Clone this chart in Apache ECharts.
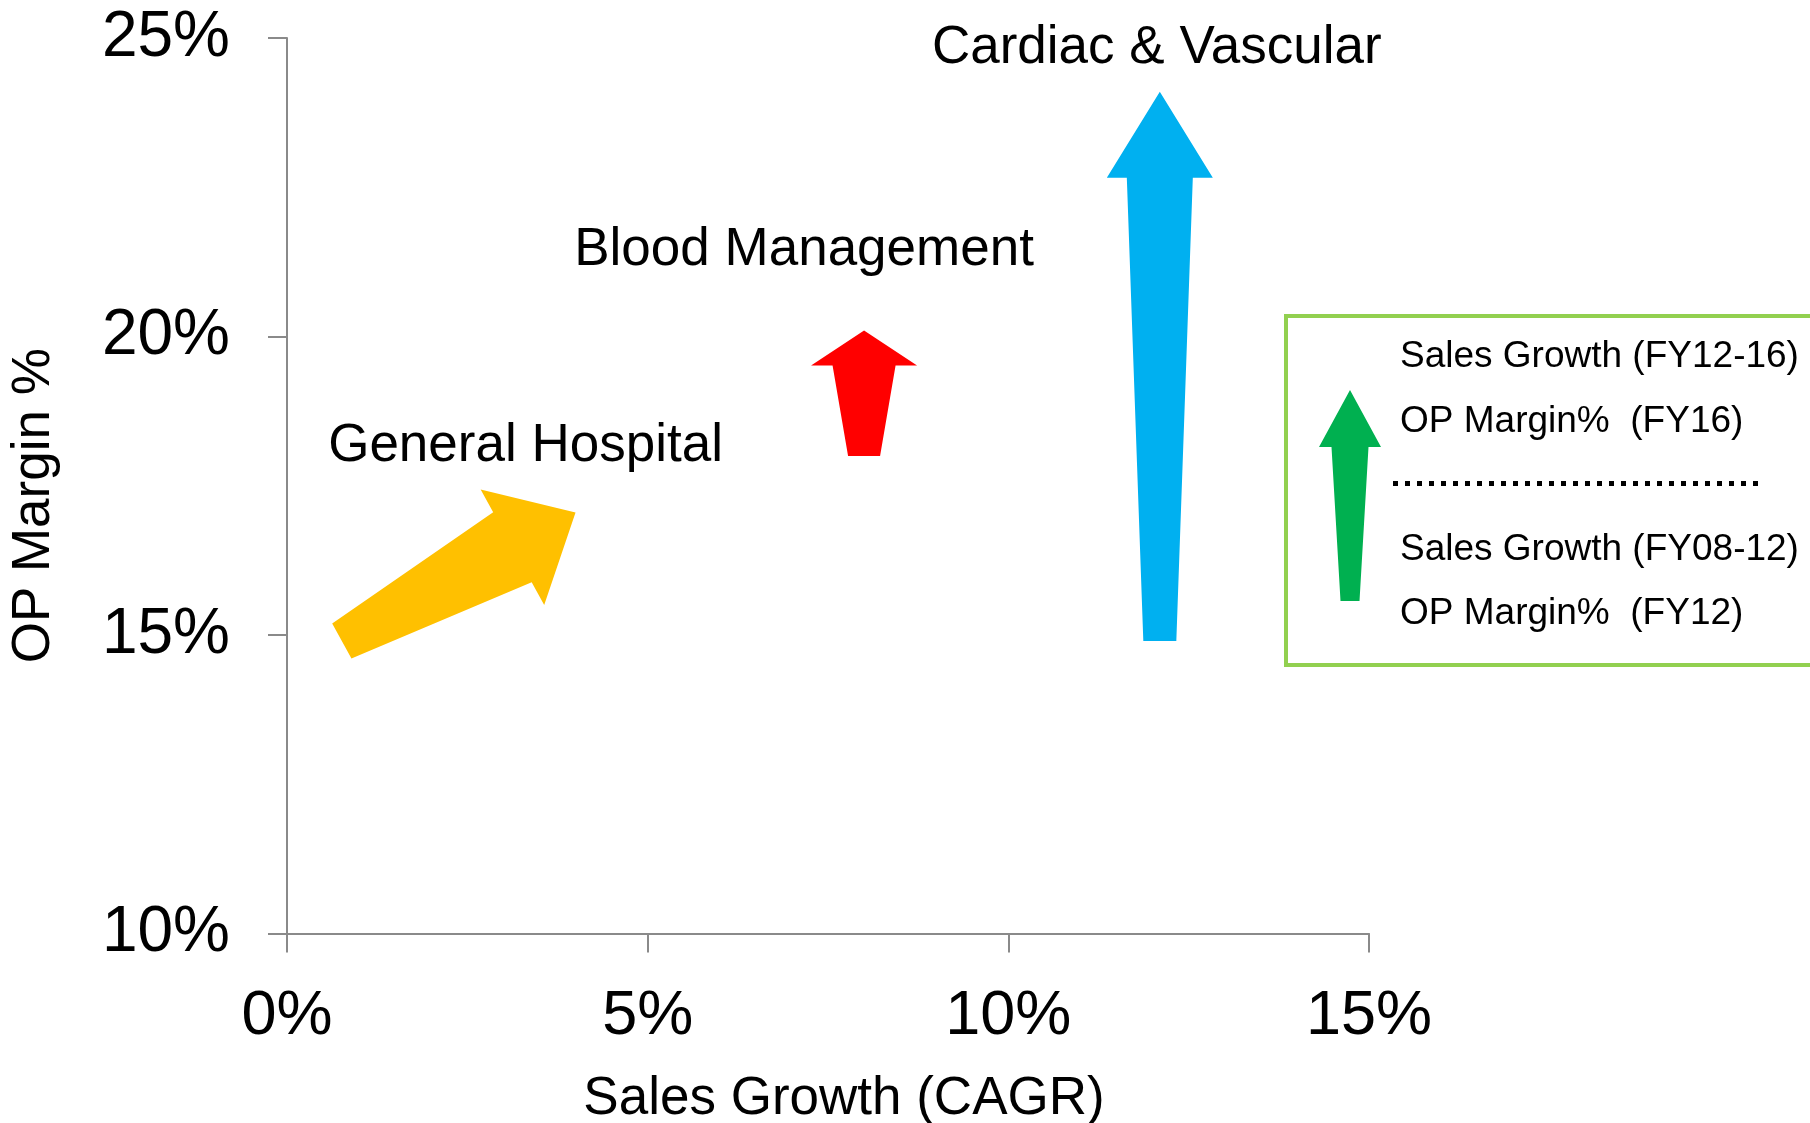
<!DOCTYPE html>
<html lang="en">

<head>
  <meta charset="UTF-8">
  <title>Sales Growth vs OP Margin</title>
  <script src="https://cdn.jsdelivr.net/npm/echarts@6/dist/echarts.min.js"></script>
  <style>
    html,
    body {
      margin: 0;
      padding: 0;
      background: #fff;
    }

    #chart {
      width: 1810px;
      height: 1123px;
    }
  </style>
</head>

<body>
  <div id="chart"></div>
  <script>
    // business segments, one arrow each: FY08-12 -> FY12-16
    const segments = ['General Hospital', 'Blood Management', 'Cardiac & Vascular'];
    const growthStart = [0.76, 8.0, 12.1];  // sales growth FY08-12 (%)
    const growthEnd = [4.0, 8.0, 12.1];     // sales growth FY12-16 (%)
    const marginStart = [14.9, 18.0, 14.9]; // OP margin FY12 (%)
    const marginEnd = [17.05, 20.1, 24.1];  // OP margin FY16 (%)

    const xTicks = [0, 5, 10, 15];
    const yTicks = [10, 15, 20, 25];

    const legendLines = ['Sales Growth (FY12-16)', 'OP Margin%  (FY16)', 'Sales Growth (FY08-12)', 'OP Margin%  (FY12)'];

    const FONT = '"Liberation Sans", Arial, Helvetica, sans-serif';

    // look of each arrow (pixels), not data
    const arrowStyles = [
      { color: '#FFC000', tail: 40, neck: 80, head: 132, headLen: 72, labelDx: -50, labelDy: -66, labelSize: 53 },
      { color: '#FF0000', tail: 32, neck: 63, head: 106, headLen: 35, labelDx: -60, labelDy: -80, labelSize: 53 },
      { color: '#00B0F0', tail: 33, neck: 66, head: 106, headLen: 86, labelDx: -3, labelDy: -43, labelSize: 53 }
    ];

    // tapered block arrow from p0 (tail) to p1 (tip)
    function arrowPoints(p0, p1, s) {
      const dx = p1[0] - p0[0], dy = p1[1] - p0[1];
      const len = Math.sqrt(dx * dx + dy * dy);
      const ux = dx / len, uy = dy / len;
      const nx = -uy, ny = ux;
      const bx = p1[0] - ux * s.headLen, by = p1[1] - uy * s.headLen;
      const pt = (cx, cy, w) => [cx + nx * w / 2, cy + ny * w / 2];
      return [
        pt(p0[0], p0[1], s.tail), pt(bx, by, s.neck), pt(bx, by, s.head),
        [p1[0], p1[1]],
        pt(bx, by, -s.head), pt(bx, by, -s.neck), pt(p0[0], p0[1], -s.tail)
      ];
    }

    const arrowData = segments.map((name, i) => [growthStart[i], marginStart[i], growthEnd[i], marginEnd[i]]);

    const chart = echarts.init(document.getElementById('chart'));

    const legendArrow = arrowPoints([1350, 601], [1350, 390], { tail: 19, neck: 37, head: 62, headLen: 57 });
    const legendY = [357, 422, 550, 613.5];

    const option = {
      backgroundColor: '#fff',
      animation: false,
      grid: { left: 287, right: 441, top: 38, bottom: 189.5, outerBoundsMode: 'none', containLabel: false },
      xAxis: {
        type: 'value',
        min: xTicks[0],
        max: xTicks[xTicks.length - 1],
        interval: 5,
        name: 'Sales Growth (CAGR)',
        nameLocation: 'middle',
        nameGap: 139,
        nameTextStyle: { fontSize: 53, color: '#000', fontFamily: FONT, padding: [0, 0, 0, 32] },
        axisLine: { show: true, lineStyle: { color: '#8a8a8a', width: 2 } },
        axisTick: { show: true, length: 19, lineStyle: { color: '#8a8a8a', width: 2 } },
        axisLabel: { fontSize: 63, color: '#000', fontFamily: FONT, margin: 52, formatter: '{value}%' },
        splitLine: { show: false }
      },
      yAxis: {
        type: 'value',
        min: yTicks[0],
        max: yTicks[yTicks.length - 1],
        interval: 5,
        name: 'OP Margin %',
        nameLocation: 'middle',
        nameRotate: 90,
        nameGap: 226,
        nameTextStyle: { fontSize: 53, color: '#000', fontFamily: FONT, padding: [0, 40, 0, 0] },
        axisLine: { show: true, lineStyle: { color: '#8a8a8a', width: 2 } },
        axisTick: { show: true, length: 19, lineStyle: { color: '#8a8a8a', width: 2 } },
        axisLabel: { fontSize: 64, color: '#000', fontFamily: FONT, margin: 57, formatter: '{value}%' },
        splitLine: { show: false }
      },
      series: [
        {
          type: 'custom',
          clip: false,
          data: arrowData,
          encode: { x: [0, 2], y: [1, 3] },
          renderItem: function (params, api) {
            const i = params.dataIndex;
            const s = arrowStyles[i];
            const p0 = api.coord([api.value(0), api.value(1)]);
            const p1 = api.coord([api.value(2), api.value(3)]);
            return {
              type: 'group',
              children: [
                {
                  type: 'polygon',
                  shape: { points: arrowPoints(p0, p1, s) },
                  style: { fill: s.color }
                },
                {
                  type: 'text',
                  x: p1[0] + s.labelDx,
                  y: p1[1] + s.labelDy,
                  style: {
                    text: segments[i],
                    fill: '#000',
                    fontSize: s.labelSize,
                    fontFamily: FONT,
                    align: 'center',
                    verticalAlign: 'middle'
                  }
                }
              ]
            };
          }
        }
      ],
      graphic: [
        {
          type: 'rect',
          shape: { x: 1286, y: 316, width: 540, height: 349 },
          style: { fill: '#fff', stroke: '#92D050', lineWidth: 4 }
        },
        {
          type: 'polygon',
          shape: { points: legendArrow },
          style: { fill: '#00B050' }
        },
        {
          type: 'line',
          shape: { x1: 1393, y1: 483.5, x2: 1758, y2: 483.5 },
          style: { stroke: '#000', lineWidth: 5, lineDash: [5, 7] }
        }
      ].concat(legendLines.map((t, i) => ({
        type: 'text',
        x: 1400,
        y: legendY[i],
        style: { text: t, fill: '#000', fontSize: 37, fontFamily: FONT, align: 'left', verticalAlign: 'middle' }
      })))
    };

    chart.setOption(option);

    window.onresize = function () {
      chart.resize();
    };
  </script>
</body>

</html>
